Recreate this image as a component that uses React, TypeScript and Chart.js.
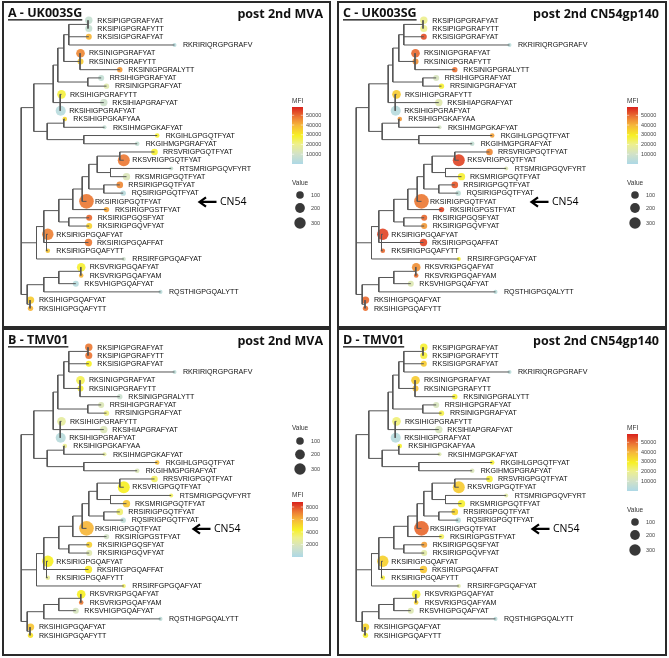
import React, { useEffect, useRef } from "react";
import { Chart, registerables } from "chart.js";
Chart.register(...registerables);

// ---------------- data ----------------
const tipLabels = [
  "RKSIPIGPGRAFYAT", "RKSIPIGPGRAFYTT", "RKSISIGPGRAFYAT", "RKRIRIQRGPGRAFV",
  "RKSINIGPGRAFYAT", "RKSINIGPGRAFYTT", "RKSINIGPGRALYTT", "RRSIHIGPGRAFYAT",
  "RRSINIGPGRAFYAT", "RKSIHIGPGRAFYTT", "RKSIHIAPGRAFYAT", "RKSIHIGPGRAFYAT",
  "RKSIHIGPGKAFYAA", "RKSIHMGPGKAFYAT", "RKGIHLGPGQTFYAT", "RKGIHMGPGRAFYAT",
  "RRSVRIGPGQTFYAT", "RKSVRIGPGQTFYAT", "RTSMRIGPGQVFYRT", "RKSMRIGPGQTFYAT",
  "RRSIRIGPGQTFYAT", "RQSIRIGPGQTFYAT", "RKSIRIGPGQTFYAT", "RKSIRIGPGSTFYAT",
  "RKSIRIGPGQSFYAT", "RKSIRIGPGQVFYAT", "RKSIRIGPGQAFYAT", "RKSIRIGPGQAFFAT",
  "RKSIRIGPGQAFYTT", "RRSIRFGPGQAFYAT", "RKSVRIGPGQAFYAT", "RKSVRIGPGQAFYAM",
  "RKSVHIGPGQAFYAT", "RQSTHIGPGQALYTT", "RKSIHIGPGQAFYAT", "RKSIHIGPGQAFYTT",
];

// distance of each tip from the root (tree units)
const tipDepth = [
  67.6, 67.6, 67.6, 153.3, 59.3, 59.3, 98.6, 80, 85.3, 40.3, 82.6, 39.5,
  43.6, 83.3, 136, 116, 133.3, 102.6, 150, 105.3, 98.6, 102, 65.3, 85.3,
  68, 68, 26.6, 67.3, 26.6, 102.6, 60, 60, 54.6, 139.3, 9.3, 9.3,
];

// "Value" (point size)
const tipValue = [
  92, 80, 48, 10, 142, 48, 33, 48, 33, 142, 92, 214,
  18, 10, 18, 18, 65, 341, 10, 92, 65, 33, 550, 33,
  48, 48, 300, 92, 18, 10, 142, 18, 48, 10, 92, 33,
];

// MFI per panel
const mfiA = [
  7000, 7000, 40000, 3000, 46000, 36000, 44000, 6000, 15000, 27000, 9000, 3000,
  34000, 6000, 28000, 6000, 28000, 48000, 7000, 13000, 46000, 3000, 48000, 42000,
  50000, 35000, 47000, 48000, 37000, 9000, 28000, 40000, 3000, 4000, 36000, 40000,
];
const mfiB = [
  7200, 7300, 4400, 700, 3800, 4200, 1200, 2000, 3200, 2600, 2000, 500,
  3000, 2600, 5800, 2000, 3600, 4400, 3600, 5600, 3400, 700, 6000, 1600,
  5300, 2200, 4400, 4600, 2800, 3600, 4400, 7200, 1800, 700, 5600, 4800,
];
const mfiC = [
  20000, 20000, 53000, 4000, 50000, 45000, 49000, 12000, 28000, 36000, 15000, 3000,
  44000, 11000, 43000, 6000, 46000, 54000, 14000, 28000, 52000, 5000, 48000, 54000,
  50000, 44000, 54000, 54000, 50000, 28000, 45000, 49000, 14000, 4000, 50000, 49000,
];
const mfiD = [
  28000, 27000, 36000, 4000, 36000, 38000, 28000, 12000, 26000, 22000, 12000, 3000,
  28000, 14000, 28000, 13000, 28000, 36000, 16000, 28000, 34000, 4000, 50000, 24000,
  43000, 16000, 35000, 37000, 27000, 15000, 28000, 35000, 14000, 4000, 34000, 28000,
];

const mfiTicksLarge = [10000, 20000, 30000, 40000, 50000];
const mfiTicksSmall = [2000, 4000, 6000, 8000];
const valueLegend = [100, 200, 300];

// internal nodes: [id, depth, children]; number = tip index, string = node id
const treeNodes: [string, number, (number | string)[]][] = [
  ["N12", 66.8, [0, 1]],
  ["A1", 47.6, ["N12", 2, 3]],
  ["B", 58.8, [4, 5, 6]],
  ["A2", 42.6, ["A1", "B"]],
  ["C", 66.6, [7, 8]],
  ["A3", 36.6, ["A2", "C"]],
  ["D", 39, [9, 10, 11]],
  ["A4", 32, ["A3", "D"]],
  ["N1314", 42.6, [12, 13]],
  ["N1516", 62.6, [14, 15]],
  ["E", 26, ["N1314", "N1516"]],
  ["A5", 12.6, ["A4", "E"]],
  ["N1718", 98.6, [16, 17]],
  ["N1920", 89.3, [18, 19]],
  ["P", 76, ["N1718", "N1920"]],
  ["N2122", 82.6, [20, 21]],
  ["Q", 67.6, ["P", "N2122"]],
  ["R", 61, ["Q", 22]],
  ["S", 51.6, ["R", 23]],
  ["N2526", 47.6, [24, 25]],
  ["T", 37.6, ["S", "N2526"]],
  ["I", 25.3, [26, 27, 28]],
  ["J", 22.6, ["T", "I"]],
  ["F1", 15.3, ["J", 29]],
  ["N3132", 59.6, [30, 31]],
  ["N3133", 37.6, ["N3132", 32]],
  ["G", 22.6, ["N3133", 33]],
  ["N3536", 8.8, [34, 35]],
  ["H", 6, ["G", "N3536"]],
  ["root", 0, ["A5", "F1", "H"]],
];

// ---------------- helpers ----------------
const colorStops: [number, string][] = [
  [0, "#add8e6"],
  [0.18, "#d3e2c6"],
  [0.35, "#eef08c"],
  [0.5, "#f7f025"],
  [0.68, "#f6b73a"],
  [0.82, "#ec7a35"],
  [1, "#d9211c"],
];
function hexRgb(h: string) {
  const n = parseInt(h.slice(1), 16);
  return [(n >> 16) & 255, (n >> 8) & 255, n & 255];
}
function colorAt(t: number, alpha: number) {
  t = Math.max(0, Math.min(1, t));
  for (let i = 1; i < colorStops.length; i++) {
    const [t1, c1] = colorStops[i];
    const [t0, c0] = colorStops[i - 1];
    if (t <= t1) {
      const f = (t - t0) / (t1 - t0);
      const a = hexRgb(c0), b = hexRgb(c1);
      const c = a.map((v, k) => Math.round(v + (b[k] - v) * f));
      return `rgba(${c[0]},${c[1]},${c[2]},${alpha})`;
    }
  }
  return colorStops[colorStops.length - 1][1];
}
const radiusOf = (v: number) => 1.2 + 0.26 * Math.sqrt(v);

function buildTree() {
  const depth: Record<string, number> = {};
  const ypos: Record<string, number> = {};
  const get = (c: number | string) =>
    typeof c === "number" ? { d: tipDepth[c], y: c } : { d: depth[c], y: ypos[c] };
  const edges: { x: number; y: number }[] = [];
  const gap = { x: NaN, y: NaN };
  for (const [id, d, ch] of treeNodes) {
    const kids = ch.map(get);
    const y0 = kids[0].y, y1 = kids[kids.length - 1].y;
    depth[id] = d;
    ypos[id] = (y0 + y1) / 2;
    edges.push({ x: d, y: y0 }, { x: d, y: y1 }, gap);
    for (const k of kids) edges.push({ x: d, y: k.y }, { x: k.d, y: k.y }, gap);
  }
  return edges;
}
const treeEdges = buildTree();

type PanelCfg = {
  title: string; sub: string; mfi: number[]; mfiMax: number; ticks: number[];
  valueFirst: boolean; left: number; top: number; w: number; h: number; arrowX: number;
};

const panels: PanelCfg[] = [
  { title: "A - UK003SG", sub: "post 2nd MVA", mfi: mfiA, mfiMax: 58500, ticks: mfiTicksLarge, valueFirst: false, left: 2, top: 1, w: 329, h: 327, arrowX: 195 },
  { title: "B - TMV01", sub: "post 2nd MVA", mfi: mfiB, mfiMax: 8800, ticks: mfiTicksSmall, valueFirst: true, left: 2, top: 328, w: 329, h: 328, arrowX: 189 },
  { title: "C - UK003SG", sub: "post 2nd CN54gp140", mfi: mfiC, mfiMax: 58500, ticks: mfiTicksLarge, valueFirst: false, left: 337, top: 1, w: 330, h: 327, arrowX: 192 },
  { title: "D - TMV01", sub: "post 2nd CN54gp140", mfi: mfiD, mfiMax: 58500, ticks: mfiTicksLarge, valueFirst: false, left: 337, top: 328, w: 330, h: 328, arrowX: 193 },
];

const X0 = 17.2; // pixel position of root inside the panel
const Y0 = 17.3; // pixel position of first tip
const DY = 8.23; // pixel spacing of tips

function Panel({ cfg }: { cfg: PanelCfg }) {
  const ref = useRef<HTMLCanvasElement>(null);
  const cw = cfg.w - 4, ch = cfg.h - 4;
  useEffect(() => {
    const lab = 'Liberation Sans", Arial, sans-serif';
    const overlay = {
      id: "overlay",
      afterDatasetsDraw(chart: any) {
        const ctx = chart.ctx as CanvasRenderingContext2D;
        const xs = chart.scales.x, ys = chart.scales.y;
        ctx.save();
        // tip labels
        ctx.fillStyle = "#111";
        ctx.font = `7.1px "${lab}`;
        ctx.textBaseline = "middle";
        ctx.textAlign = "left";
        tipLabels.forEach((t, i) => {
          ctx.fillText(t, xs.getPixelForValue(tipDepth[i]) + 8.5, ys.getPixelForValue(i) + 0.3);
        });
        // titles
        ctx.fillStyle = "#111";
        ctx.font = 'bold 12.5px "Open Sans", "DejaVu Sans", sans-serif';
        ctx.textBaseline = "alphabetic";
        ctx.fillText(cfg.title, 4, 14);
        const tw = ctx.measureText(cfg.title).width;
        ctx.fillRect(4, 16.2, tw, 1.3);
        ctx.textAlign = "right";
        ctx.fillText(cfg.sub, cw - 6, 14.5);
        // arrow CN54
        const ay = ys.getPixelForValue(22) + 0.6;
        const ax = cfg.arrowX;
        ctx.strokeStyle = "#000";
        ctx.lineWidth = 2.2;
        ctx.lineJoin = "miter";
        ctx.beginPath();
        ctx.moveTo(ax + 7, ay - 4.6);
        ctx.lineTo(ax + 0.5, ay);
        ctx.lineTo(ax + 7, ay + 4.6);
        ctx.moveTo(ax + 1, ay);
        ctx.lineTo(ax + 17.5, ay);
        ctx.stroke();
        ctx.fillStyle = "#000";
        ctx.font = '10.5px "Open Sans", "DejaVu Sans", sans-serif';
        ctx.textAlign = "left";
        ctx.textBaseline = "middle";
        ctx.fillText("CN54", ax + 21, ay + 0.5);

        // legends
        const lx = 288;
        const drawMfi = (titleY: number, barTop: number, barH: number) => {
          ctx.fillStyle = "#333";
          ctx.font = `6.5px "${lab}`;
          ctx.textAlign = "left";
          ctx.textBaseline = "middle";
          ctx.fillText("MFI", lx, titleY);
          const g = ctx.createLinearGradient(0, barTop + barH, 0, barTop);
          colorStops.forEach(([t, c]) => g.addColorStop(t, c));
          ctx.fillStyle = g;
          ctx.fillRect(lx, barTop, 11, barH);
          ctx.font = `5.5px "${lab}`;
          cfg.ticks.forEach((v) => {
            const y = barTop + barH * (1 - v / cfg.mfiMax);
            ctx.strokeStyle = "rgba(255,255,255,0.9)";
            ctx.lineWidth = 0.6;
            ctx.beginPath();
            ctx.moveTo(lx, y); ctx.lineTo(lx + 2.2, y);
            ctx.moveTo(lx + 8.8, y); ctx.lineTo(lx + 11, y);
            ctx.stroke();
            ctx.fillStyle = "#444";
            ctx.fillText(String(v), lx + 14, y);
          });
        };
        const drawValue = (titleY: number, ys3: number[]) => {
          ctx.fillStyle = "#333";
          ctx.font = `6.5px "${lab}`;
          ctx.textAlign = "left";
          ctx.textBaseline = "middle";
          ctx.fillText("Value", lx, titleY);
          ctx.font = `5.5px "${lab}`;
          valueLegend.forEach((v, i) => {
            ctx.fillStyle = "#383838";
            ctx.beginPath();
            ctx.arc(lx + 8, ys3[i], radiusOf(v), 0, Math.PI * 2);
            ctx.fill();
            ctx.fillStyle = "#444";
            ctx.fillText(String(v), lx + 19, ys3[i]);
          });
        };
        if (cfg.valueFirst) {
          drawValue(98, [111, 124.5, 139]);
          drawMfi(165, 172, 55);
        } else {
          drawMfi(98, 104, 57);
          drawValue(180, [192, 205, 220]);
        }
        ctx.restore();
      },
    };

    const chart = new Chart(ref.current as HTMLCanvasElement, {
      type: "scatter",
      data: {
        datasets: [
          {
            type: "scatter",
            data: treeEdges,
            showLine: true,
            spanGaps: false,
            borderColor: "#555",
            borderWidth: 1,
            pointRadius: 0,
            pointHoverRadius: 0,
          } as any,
          {
            type: "bubble",
            data: tipDepth.map((d, i) => ({ x: d, y: i, r: radiusOf(tipValue[i]) })),
            backgroundColor: cfg.mfi.map((m) => colorAt(m / cfg.mfiMax, 0.92)),
            borderWidth: 0,
            hoverBorderWidth: 0,
          } as any,
        ],
      },
      options: {
        animation: false,
        responsive: false,
        devicePixelRatio: 1,
        events: [],
        layout: { padding: 0, autoPadding: false },
        plugins: { legend: { display: false }, tooltip: { enabled: false } },
        scales: {
          x: { type: "linear", display: false, min: -X0, max: cw - X0 },
          y: { type: "linear", display: false, reverse: true, min: -Y0 / DY, max: (ch - Y0) / DY },
        },
      },
      plugins: [overlay],
    });
    return () => chart.destroy();
  }, []);
  return (
    <div
      style={{
        position: "absolute", left: cfg.left, top: cfg.top, width: cfg.w, height: cfg.h,
        border: "2px solid #2a2a2a", boxSizing: "border-box", background: "#fff",
      }}
    >
      <canvas ref={ref} width={cw} height={ch} style={{ display: "block", width: cw, height: ch }} />
    </div>
  );
}

export default function App() {
  return (
    <div style={{ position: "absolute", left: 0, top: 0, width: 669, height: 658, background: "#fff" }}>
      {panels.map((p, i) => (
        <Panel key={i} cfg={p} />
      ))}
    </div>
  );
}
